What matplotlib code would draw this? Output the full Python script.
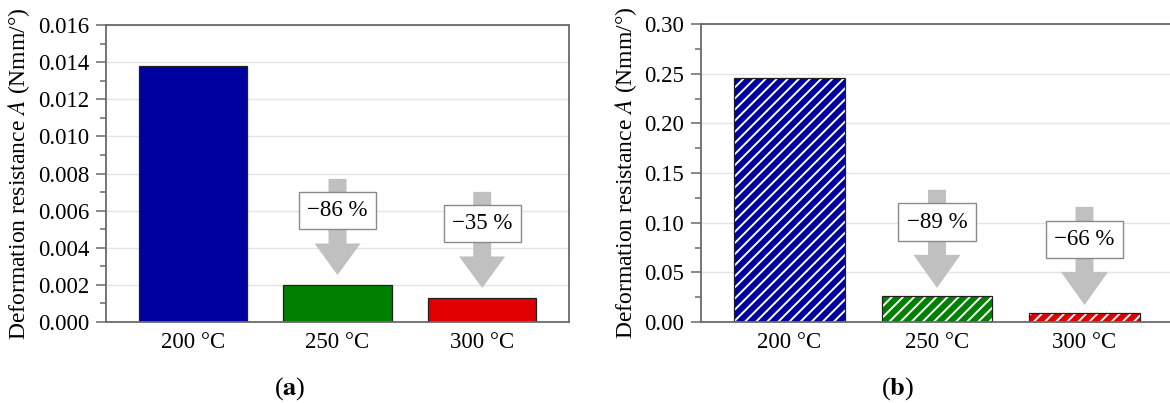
import numpy as np
import matplotlib.pyplot as plt
from matplotlib.ticker import FormatStrFormatter, MultipleLocator

plt.rcParams['font.family'] = ['Liberation Serif', 'DejaVu Serif']
plt.rcParams['mathtext.fontset'] = 'stix'
plt.rcParams['hatch.linewidth'] = 1.4

temperatures = ["200 °C", "250 °C", "300 °C"]
colors = ["#0000A0", "#008000", "#E00000"]

# deformation resistance A for both test series
resistance_a = [0.0138, 0.0020, 0.0013]
resistance_b = [0.246, 0.026, 0.0088]

spine_grey = "#6A6A6A"
arrow_grey = "#C0C0C0"

fig = plt.figure(figsize=(11.7, 4.03), dpi=100)
ax1 = fig.add_axes([106/1170, 81/403, 463/1170, 297/403])
ax2 = fig.add_axes([701/1170, 81/403, 472/1170, 298/403])


def style_axes(ax, ymax, major, fmt):
    ax.set_ylim(0, ymax)
    ax.set_xlim(0.4, 3.6)
    ax.yaxis.set_major_locator(MultipleLocator(major))
    ax.yaxis.set_minor_locator(MultipleLocator(major / 2))
    ax.yaxis.set_major_formatter(FormatStrFormatter(fmt))
    ax.grid(axis="y", color="#E4E4E4", linewidth=1.0, zorder=0)
    ax.set_axisbelow(True)
    for side in ["left", "bottom", "top", "right"]:
        ax.spines[side].set_color(spine_grey)
        ax.spines[side].set_linewidth(1.3)
    ax.tick_params(axis="y", which="major", length=7, width=1.1, color=spine_grey, labelsize=16.5, pad=5)
    ax.tick_params(axis="y", which="minor", length=4, width=1.1, color=spine_grey)
    ax.tick_params(axis="x", length=0, labelsize=16.5, pad=7)
    ax.set_ylabel("Deformation resistance $A$ (Nmm/°)", fontsize=17, labelpad=4)


def drop_arrow(ax, x, value, ref, gap, length, head_len, shaft, head):
    # grey arrow pointing down at the bar, with the relative change in a box
    tip = value + gap
    top = tip + length
    ax.arrow(x, top, 0, -length, width=shaft, head_width=head, head_length=head_len,
             length_includes_head=True, color=arrow_grey, linewidth=0, zorder=3)
    change = round((value / ref - 1) * 100)
    ax.text(x, top - 0.33 * length, f"\u2212{abs(change)} %", ha="center", va="center",
            fontsize=16.5, zorder=4,
            bbox=dict(boxstyle="square,pad=0.36", facecolor="white", edgecolor="#8A8A8A", linewidth=1.0))


x = np.arange(1, len(temperatures) + 1)

# (a) solid bars
ax1.bar(x, resistance_a, width=0.75, color=colors, edgecolor="#202020", linewidth=0.9, zorder=2)
style_axes(ax1, 0.016, 0.002, "%.3f")
ax1.set_xticks(x, temperatures)
for i in range(1, 3):
    drop_arrow(ax1, x[i], resistance_a[i], resistance_a[i - 1], 0.00053, 0.00518, 0.0017, 0.124, 0.318)

# (b) hatched bars: white hatch on the fill, dark outline drawn on top
ax2.bar(x, resistance_b, width=0.75, color=colors, edgecolor="white", hatch="///", linewidth=0, zorder=2)
ax2.bar(x, resistance_b, width=0.75, fill=False, edgecolor="#202020", linewidth=0.9, zorder=2)
style_axes(ax2, 0.30, 0.05, "%.2f")
ax2.set_xticks(x, temperatures)
for i in range(1, 3):
    drop_arrow(ax2, x[i], resistance_b[i], resistance_b[i - 1], 0.0083, 0.0988, 0.0333, 0.122, 0.319)

fig.text(290/1170, 1 - 389/403, "($\\mathbf{a}$)", ha="center", va="center", fontsize=19)
fig.text(898/1170, 1 - 389/403, "($\\mathbf{b}$)", ha="center", va="center", fontsize=19)

fig.savefig("out.png", dpi=100)
